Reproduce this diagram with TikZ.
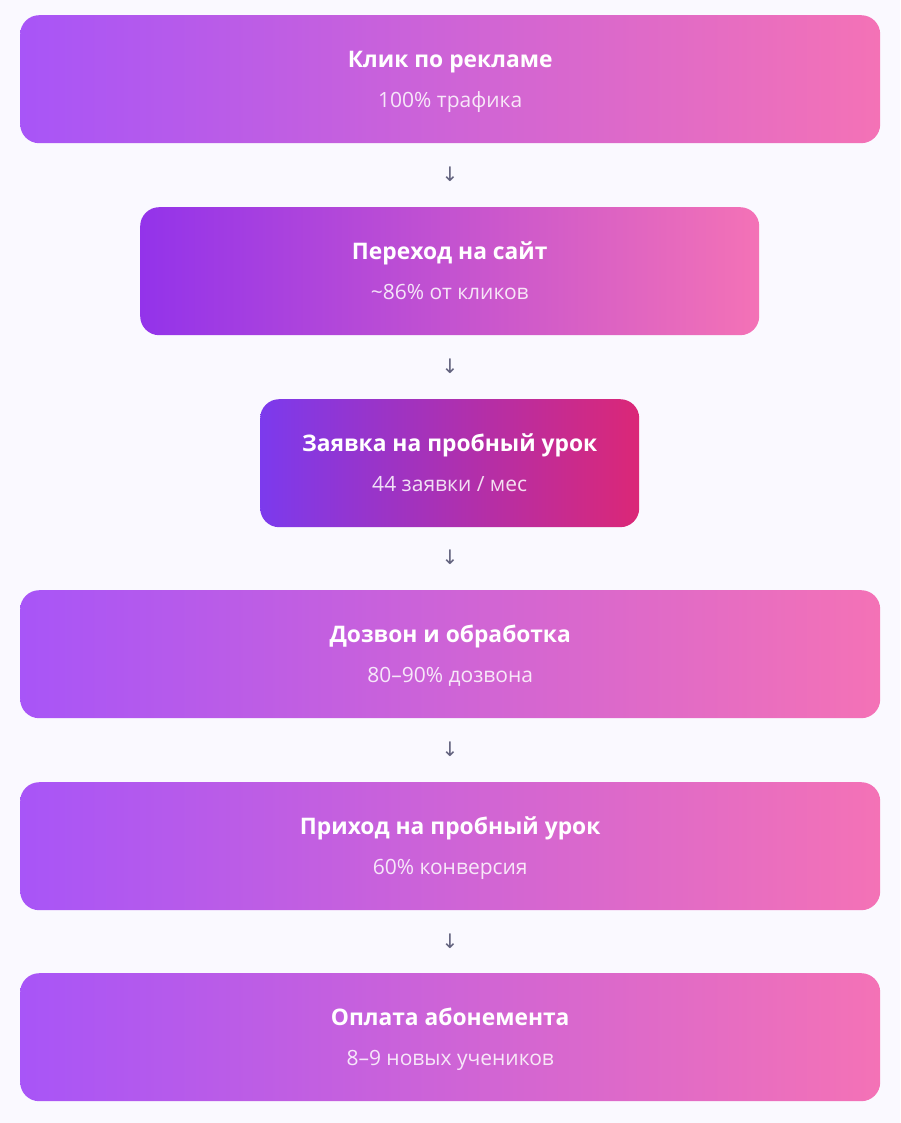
\documentclass[tikz,border=0pt]{standalone}
\usepackage{fontspec}
\setmainfont{Open Sans}
\newfontfamily\arrowfont{DejaVu Sans}
\definecolor{bgc}{HTML}{FAF9FF}
\definecolor{pA}{HTML}{A855F7}
\definecolor{pB}{HTML}{F472B6}
\definecolor{pC}{HTML}{9333EA}
\definecolor{pD}{HTML}{7C3AED}
\definecolor{pE}{HTML}{DB2777}
\definecolor{arr}{HTML}{62627E}
\begin{document}
\begin{tikzpicture}[x=1pt,y=-1pt,
  stage/.style={rounded corners=19pt, inner sep=0pt, minimum height=128pt, anchor=north west},
  ttl/.style={anchor=base, text=white, font=\bfseries\fontsize{22.8}{27}\selectfont},
  sub/.style={anchor=base, text=white, text opacity=0.85, font=\fontsize{21}{25}\selectfont},
  arrowmark/.style={text=arr, font=\arrowfont\fontsize{20}{24}\selectfont, inner sep=0pt}
]
\fill[bgc] (0,0) rectangle (900,1123);
\useasboundingbox (0,0) rectangle (900,1123);

\node[stage, left color=pA, right color=pB, minimum width=860pt] (b1) at (20,15) {};
\node[stage, left color=pC, right color=pB, minimum width=619pt] (b2) at (140,207) {};
\node[stage, left color=pD, right color=pE, minimum width=379pt] (b3) at (260,399) {};
\node[stage, left color=pA, right color=pB, minimum width=860pt] (b4) at (20,590) {};
\node[stage, left color=pA, right color=pB, minimum width=860pt] (b5) at (20,782) {};
\node[stage, left color=pA, right color=pB, minimum width=860pt] (b6) at (20,973) {};

\foreach \b/\t/\s in {b1/{Клик по рекламе}/{100\% трафика},
                      b2/{Переход на сайт}/{\textasciitilde86\% от кликов},
                      b3/{Заявка на пробный урок}/{44 заявки / мес},
                      b4/{Дозвон и обработка}/{80–90\% дозвона},
                      b5/{Приход на пробный урок}/{60\% конверсия},
                      b6/{Оплата абонемента}/{8–9 новых учеников}}{
  \node[ttl] (\b t) at ([yshift=11.5pt]\b.center) {\t};
  \node[sub] (\b s) at ([yshift=-28.5pt]\b.center) {\s};
}

\node[arrowmark] (a1) at (450,174) {↓};
\node[arrowmark] (a2) at (450,366) {↓};
\node[arrowmark] (a3) at (450,557) {↓};
\node[arrowmark] (a4) at (450,749) {↓};
\node[arrowmark] (a5) at (450,941) {↓};
\end{tikzpicture}
\end{document}
